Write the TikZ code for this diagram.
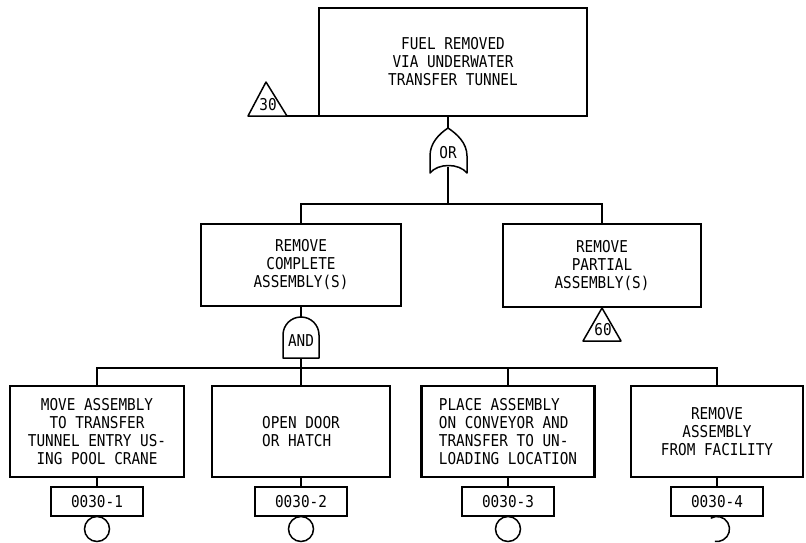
\documentclass[tikz,border=0pt]{standalone}
\usepackage{fontspec}
\setmainfont{DejaVu Sans Mono}[FakeStretch=0.88]
\newcommand{\dfont}{\fontsize{16.3}{18}\selectfont}
\tikzset{
  box/.style={draw, line width=2.4pt, align=center, inner sep=0pt, font=\dfont},
  idbox/.style={draw, line width=1.8pt, minimum width=92pt, minimum height=29pt, inner sep=0pt, font=\dfont},
  conn/.style={line width=1.6pt},
  gate/.style={line width=1.5pt, line join=round},
  ev/.style={circle, draw, line width=1.5pt, minimum size=25pt, inner sep=0pt},
  lbl/.style={inner sep=0pt, font=\dfont}
}
\begin{document}
\begin{tikzpicture}[x=1pt,y=-1pt]
\useasboundingbox (0,0) rectangle (806,542);
\fill[white] (0,0) rectangle (806,542);

% event boxes
\node[box, minimum width=268pt, minimum height=108pt] (top) at (453,62) {FUEL REMOVED\\VIA UNDERWATER\\TRANSFER TUNNEL};
\node[box, minimum width=200pt, minimum height=82pt] (ml) at (301,265) {REMOVE\\COMPLETE\\ASSEMBLY(S)};
\node[box, minimum width=198pt, minimum height=83pt] (mr) at (602,265.5) {REMOVE\\PARTIAL\\ASSEMBLY(S)};
\node[box, minimum width=174pt, minimum height=91pt] (b1) at (97,431.5) {MOVE ASSEMBLY\\TO TRANSFER\\TUNNEL ENTRY US-\\ING POOL CRANE};
\node[box, minimum width=178pt, minimum height=91pt, align=left] (b2) at (301,431.5) {OPEN DOOR\\OR HATCH};
\node[box, minimum width=173pt, minimum height=91pt, align=left] (b3) at (508,431.5) {PLACE ASSEMBLY\\ON CONVEYOR AND\\TRANSFER TO UN-\\LOADING LOCATION};
\node[box, minimum width=172pt, minimum height=91pt] (b4) at (717,431.5) {REMOVE\\ASSEMBLY\\FROM FACILITY};

% id boxes
\node[idbox] (i1) at (97,501.5) {0030-1};
\node[idbox] (i2) at (301,501.5) {0030-2};
\node[idbox] (i3) at (508,501.5) {0030-3};
\node[idbox] (i4) at (717,501.5) {0030-4};

% basic event circles
\node[ev] (c1) at (97,529) {};
\node[ev] (c2) at (301,529) {};
\node[ev] (c3) at (508,529) {};
\coordinate (c4) at (717,529);
\draw[line width=1.5pt] ([shift={(120:12.5pt)}]c4) arc[start angle=120, end angle=-100, radius=12.5pt];

% OR gate
\coordinate (orTop) at (448,128);
\coordinate (orBot) at (448,167);
\draw[gate] (430,173) -- (430,156) .. controls (430,143) and (439,134) .. (orTop)
  .. controls (457,134) and (467,143) .. (467,156) -- (467,173)
  .. controls (459,163) and (438,163) .. (430,173) -- cycle;
\node[lbl] (orlbl) at (448,153) {OR};

% AND gate
\coordinate (andTop) at (301,317);
\coordinate (andBot) at (301,358);
\draw[gate] (283,358) -- (283,335) .. controls (283,325) and (291,317) .. (andTop)
  .. controls (311,317) and (319,325) .. (319,335) -- (319,358) -- cycle;
\node[lbl] (andlbl) at (301,341) {AND};

% transfer triangles
\draw[gate] (266,82) -- (287,116) -- (248,116) -- cycle;
\node[lbl] (t30lbl) at (268,105) {30};
\coordinate (t30) at (287,116);
\draw[gate] (602,308) -- (621,341) -- (583,341) -- cycle;
\node[lbl] (t60lbl) at (603,330) {60};

% connectors
\draw[conn] (t30) -- (t30 -| top.west);
\draw[conn] (orTop |- top.south) -- (orTop);
\coordinate (j1) at (448,204);
\draw[conn] (orBot) -- (j1);
\draw[conn] (ml.north) |- (j1) -| (mr.north);
\draw[conn] (ml.south) -- (andTop);
\coordinate (j2) at (301,368);
\draw[conn] (andBot) -- (j2);
\draw[conn] (b1.north) |- (j2) -| (b4.north);
\draw[conn] (b2.north) -- (j2);
\draw[conn] (b3.north) -- (b3.north |- j2);
\draw[conn] (b1.south) -- (i1.north);
\draw[conn] (b2.south) -- (i2.north);
\draw[conn] (b3.south) -- (i3.north);
\draw[conn] (b4.south) -- (i4.north);
\end{tikzpicture}
\end{document}
